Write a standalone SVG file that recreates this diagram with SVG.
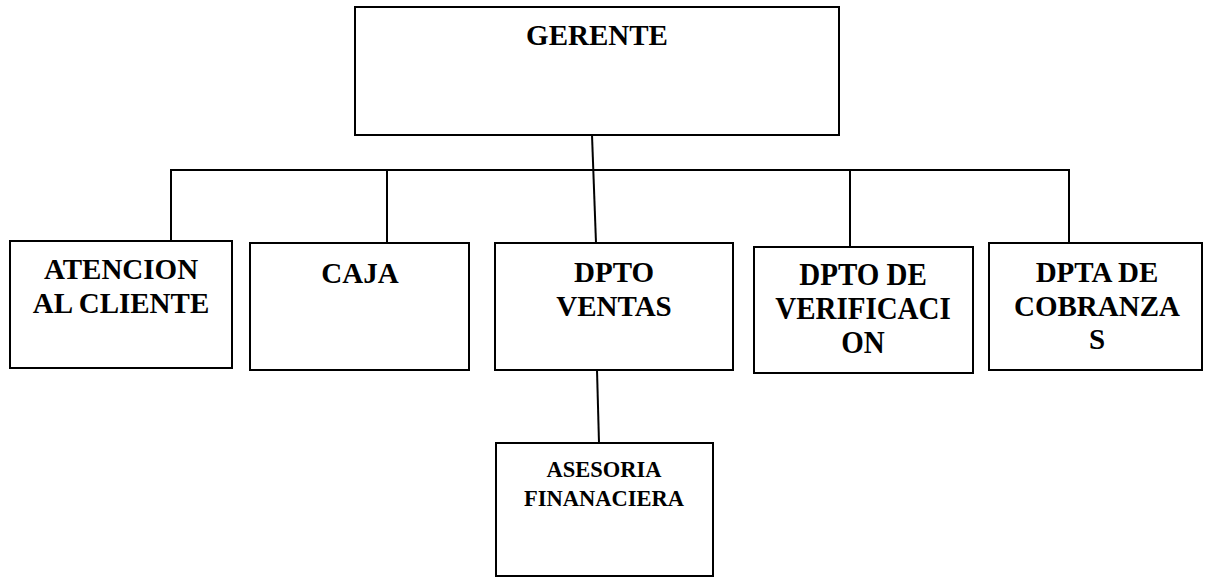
<svg xmlns="http://www.w3.org/2000/svg" width="1208" height="577" viewBox="0 0 1208 577">
  <style>
    .box { fill: #ffffff; stroke: #000000; stroke-width: 2; }
    .link { fill: none; stroke: #000000; stroke-width: 2; }
    .lbl { font-family: "Liberation Serif", "Times New Roman", serif; font-weight: bold; font-size: 29px; fill: #000000; text-anchor: middle; }
    .sm { font-size: 22.5px; }
  </style>
  <rect width="1208" height="577" fill="#ffffff"/>

  <!-- connectors -->
  <g id="connectors">
    <line class="link" x1="592" y1="135" x2="596" y2="243"/>
    <line class="link" x1="171" y1="170" x2="1070" y2="170"/>
    <line class="link" x1="171" y1="169" x2="171" y2="248"/>
    <line class="link" x1="387" y1="170" x2="387" y2="246"/>
    <line class="link" x1="850" y1="170" x2="850" y2="247"/>
    <line class="link" x1="1069" y1="169" x2="1069" y2="246"/>
    <line class="link" x1="597" y1="370" x2="599" y2="443"/>
  </g>

  <g id="gerente">
    <rect class="box" x="355" y="7" width="484" height="128"/>
    <text class="lbl" x="597" y="45">GERENTE</text>
  </g>

  <g id="atencion">
    <rect class="box" x="10" y="241" width="222" height="127"/>
    <text class="lbl" x="121" y="279">ATENCION</text>
    <text class="lbl" x="121" y="313">AL CLIENTE</text>
  </g>

  <g id="caja">
    <rect class="box" x="250" y="243" width="219" height="127"/>
    <text class="lbl" x="360" y="283">CAJA</text>
  </g>

  <g id="ventas">
    <rect class="box" x="495" y="243" width="238" height="127"/>
    <text class="lbl" x="614" y="282">DPTO</text>
    <text class="lbl" x="614" y="316">VENTAS</text>
  </g>

  <g id="verificacion">
    <rect class="box" x="754" y="247" width="219" height="126"/>
    <!-- slightly taller lettering in this box -->
    <text class="lbl" transform="translate(863,285) scale(1,1.1)">DPTO DE</text>
    <text class="lbl" transform="translate(863,319) scale(1,1.1)">VERIFICACI</text>
    <text class="lbl" transform="translate(863,353) scale(1,1.1)">ON</text>
  </g>

  <g id="cobranzas">
    <rect class="box" x="989" y="243" width="213" height="127"/>
    <text class="lbl" x="1097" y="282">DPTA DE</text>
    <text class="lbl" x="1097" y="316">COBRANZA</text>
    <text class="lbl" x="1097" y="349">S</text>
  </g>

  <g id="asesoria">
    <rect class="box" x="496" y="443" width="217" height="133"/>
    <text class="lbl sm" x="604" y="477">ASESORIA</text>
    <text class="lbl sm" x="604" y="506">FINANACIERA</text>
  </g>
</svg>
